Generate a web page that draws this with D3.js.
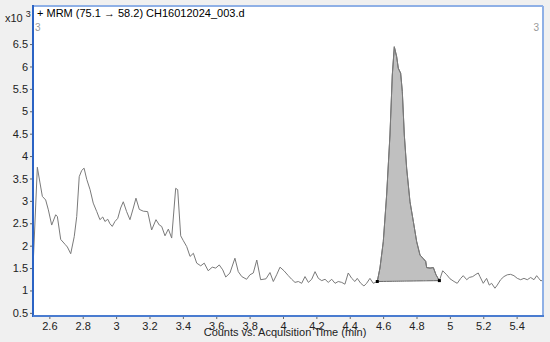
<!DOCTYPE html>
<html>
<head>
<script src="https://d3js.org/d3.v7.min.js"></script>
<style>
    body { margin: 0; background: #f0f0f0; }
    svg { display: block; font-family: "Liberation Sans", Arial, sans-serif; }
</style>
</head>
<body>
<svg width="550" height="342"></svg>
<script>
    // acquisition time (min) and counts (x10^3)
    var times = [2.502, 2.528, 2.544, 2.558, 2.578, 2.594, 2.614, 2.638, 2.648, 2.668, 2.694, 2.708, 2.728, 2.749, 2.764,
        2.779, 2.794, 2.808, 2.824, 2.844, 2.863, 2.884, 2.903, 2.920, 2.933, 2.950, 2.963, 2.977, 2.993, 3.010,
        3.027, 3.043, 3.063, 3.083, 3.103, 3.119, 3.139, 3.163, 3.189, 3.213, 3.239, 3.259, 3.273, 3.293, 3.313,
        3.333, 3.357, 3.369, 3.387, 3.403, 3.423, 3.443, 3.463, 3.483, 3.507, 3.528, 3.552, 3.576, 3.597, 3.618,
        3.639, 3.657, 3.682, 3.712, 3.732, 3.753, 3.782, 3.802, 3.822, 3.843, 3.866, 3.898, 3.922, 3.942, 3.962,
        3.982, 4.006, 4.032, 4.052, 4.072, 4.092, 4.112, 4.132, 4.152, 4.172, 4.192, 4.212, 4.232, 4.252, 4.271,
        4.292, 4.312, 4.331, 4.352, 4.371, 4.391, 4.412, 4.431, 4.445, 4.466, 4.485, 4.501, 4.521, 4.541, 4.565,
        4.581, 4.601, 4.621, 4.641, 4.655, 4.667, 4.681, 4.691, 4.705, 4.715, 4.727, 4.741, 4.761, 4.781, 4.801,
        4.821, 4.841, 4.855, 4.861, 4.881, 4.901, 4.917, 4.937, 4.957, 4.981, 5.001, 5.025, 5.044, 5.065, 5.080,
        5.101, 5.116, 5.137, 5.156, 5.170, 5.180, 5.200, 5.220, 5.236, 5.250, 5.270, 5.284, 5.304, 5.324, 5.344,
        5.364, 5.384, 5.404, 5.424, 5.444, 5.464, 5.484, 5.504, 5.520, 5.535, 5.546, 5.558];
    var counts = [1.50, 3.75, 3.40, 3.10, 3.02, 2.80, 2.46, 2.69, 2.65, 2.14, 2.03, 1.97, 1.82, 2.20, 2.65,
        3.54, 3.68, 3.73, 3.48, 3.25, 2.95, 2.76, 2.58, 2.64, 2.54, 2.59, 2.49, 2.43, 2.54, 2.61,
        2.84, 2.98, 2.76, 2.58, 2.84, 3.06, 2.81, 2.77, 2.76, 2.35, 2.58, 2.46, 2.43, 2.22, 2.37,
        2.17, 3.28, 3.25, 2.22, 2.11, 1.98, 1.76, 1.83, 1.61, 1.55, 1.61, 1.44, 1.52, 1.50, 1.57,
        1.46, 1.30, 1.39, 1.72, 1.42, 1.31, 1.25, 1.35, 1.39, 1.68, 1.24, 1.26, 1.40, 1.20, 1.35,
        1.52, 1.44, 1.33, 1.25, 1.18, 1.20, 1.16, 1.31, 1.18, 1.25, 1.42, 1.27, 1.22, 1.25, 1.18,
        1.25, 1.16, 1.20, 1.18, 1.14, 1.39, 1.27, 1.20, 1.27, 1.16, 1.10, 1.16, 1.27, 1.16, 1.20,
        1.50, 2.09, 3.13, 4.47, 5.81, 6.44, 6.22, 5.96, 5.85, 5.44, 4.47, 3.73, 2.98, 2.54, 2.09,
        1.79, 1.71, 1.65, 1.51, 1.50, 1.51, 1.35, 1.22, 1.44, 1.35, 1.26, 1.20, 1.16, 1.27, 1.33,
        1.24, 1.29, 1.31, 1.36, 1.39, 1.31, 1.16, 1.27, 1.12, 1.16, 1.05, 1.12, 1.24, 1.31, 1.35,
        1.36, 1.33, 1.27, 1.24, 1.27, 1.24, 1.29, 1.24, 1.33, 1.26, 1.21, 1.25];
    var peakStart = 4.565, peakEnd = 4.937;
    var xTicks = [2.6, 2.8, 3, 3.2, 3.4, 3.6, 3.8, 4, 4.2, 4.4, 4.6, 4.8, 5, 5.2, 5.4];
    var yTicks = [0.5, 1, 1.5, 2, 2.5, 3, 3.5, 4, 4.5, 5, 5.5, 6, 6.5];

    var svg = d3.select("svg");
    var pLeft = 33, pRight = 543, pTop = 6, pBottom = 316;

    var x = d3.scaleLinear().domain([2.502, 5.558]).range([pLeft, pRight]);
    var y = d3.scaleLinear().domain([0.43, 7.35]).range([pBottom, pTop]);

    var data = times.map(function(t, i) { return { t: t, v: counts[i] }; });

    // plot background
    svg.append("rect")
        .attr("x", pLeft).attr("y", pTop)
        .attr("width", pRight - pLeft).attr("height", pBottom - pTop)
        .attr("fill", "#fff");

    // integrated peak
    var peak = data.filter(function(d) { return d.t >= peakStart && d.t <= peakEnd; });
    var v0 = peak[0].v, v1 = peak[peak.length - 1].v;
    var base = d3.scaleLinear().domain([peakStart, peakEnd]).range([v0, v1]);

    svg.append("path")
        .datum(peak)
        .attr("fill", "#c0c0c0")
        .attr("stroke", "#666")
        .attr("stroke-width", 1)
        .attr("d", d3.area()
            .x(function(d) { return x(d.t); })
            .y0(function(d) { return y(base(d.t)); })
            .y1(function(d) { return y(d.v); }));

    // trace
    svg.append("path")
        .datum(data)
        .attr("fill", "none")
        .attr("stroke", "#7a7a7a")
        .attr("stroke-width", 1)
        .attr("d", d3.line()
            .x(function(d) { return x(d.t); })
            .y(function(d) { return y(d.v); }));

    // baseline markers
    svg.selectAll("rect.mark")
        .data([[peakStart, v0], [peakEnd, v1]])
        .enter().append("rect")
        .attr("class", "mark")
        .attr("x", function(d) { return x(d[0]) - 1.5; })
        .attr("y", function(d) { return y(d[1]) - 1.5; })
        .attr("width", 3).attr("height", 3)
        .attr("fill", "#000");

    // axes
    var yAxis = svg.append("g")
        .attr("transform", "translate(" + pLeft + ",0)")
        .call(d3.axisLeft(y).tickValues(yTicks).tickSize(3).tickPadding(2)
            .tickFormat(function(d) { return d; }));
    var xAxis = svg.append("g")
        .attr("transform", "translate(0," + pBottom + ")")
        .call(d3.axisBottom(x).tickValues(xTicks).tickSize(3).tickPadding(3)
            .tickFormat(function(d) { return d; }));
    [yAxis, xAxis].forEach(function(g) {
        g.select(".domain").remove();
        g.selectAll(".tick line").attr("stroke", "#666");
        g.selectAll("text").attr("font-size", 11).attr("fill", "#222")
            .attr("font-family", "Liberation Sans, Arial, sans-serif");
    });

    // frame
    svg.append("line").attr("x1", pLeft).attr("x2", pRight).attr("y1", pTop).attr("y2", pTop)
        .attr("stroke", "#8fb0e6").attr("stroke-width", 2);
    svg.append("line").attr("x1", pRight).attr("x2", pRight).attr("y1", pTop).attr("y2", pBottom)
        .attr("stroke", "#8fb0e6").attr("stroke-width", 2);
    svg.append("line").attr("x1", pLeft).attr("x2", pLeft).attr("y1", pTop - 1).attr("y2", pBottom + 1)
        .attr("stroke", "#2b63c4").attr("stroke-width", 2);
    svg.append("line").attr("x1", pLeft).attr("x2", pRight + 1).attr("y1", pBottom).attr("y2", pBottom)
        .attr("stroke", "#4a7cd0").attr("stroke-width", 2);

    // texts
    svg.append("text").attr("x", 37).attr("y", 17)
        .attr("font-size", 11).attr("fill", "#000")
        .text("+ MRM (75.1 \u2192 58.2) CH16012024_003.d");
    var xl = svg.append("text").attr("x", 5).attr("y", 22)
        .attr("font-size", 11).attr("fill", "#222").text("x10 ");
    xl.append("tspan").attr("dy", -5).attr("font-size", 9).text("3");
    svg.append("text").attr("x", 35).attr("y", 31)
        .attr("font-size", 10).attr("fill", "#999").text("3");
    svg.append("text").attr("x", 539).attr("y", 31).attr("text-anchor", "end")
        .attr("font-size", 10).attr("fill", "#999").text("3");
    svg.append("text").attr("x", 285).attr("y", 336).attr("text-anchor", "middle")
        .attr("font-size", 11).attr("fill", "#222").text("Counts vs. Acquisition Time (min)");
</script>
</body>
</html>
